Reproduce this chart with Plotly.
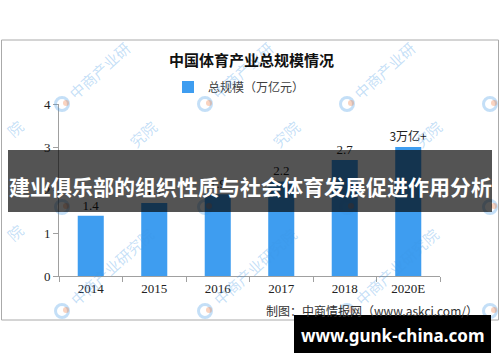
import math
import plotly.graph_objects as go

# ---- data ----
years = ["2014", "2015", "2016", "2017", "2018", "2020E"]
scale = [1.4, 1.7, 1.9, 2.2, 2.7, 3.0]
bar_labels = ["1.4", "1.7", "1.9", "2.2", "2.7", "3万亿+"]
y_ticks = [0, 1, 2, 3, 4]

chart_title = "中国体育产业总规模情况"
series_name = "总规模（万亿元）"
source_text = "制图：中商情报网（www.askci.com/）"
banner_text = "建业俱乐部的组织性质与社会体育发展促进作用分析"
site_text = "www.gunk-china.com"
watermark = "中商产业研究院"

W, H = 500, 362
L, R, T, B = 59, 440, 104, 276  # plot area in pixels


def px(x):
    return (x - L) / (R - L)


def py(y):
    return (B - y) / (B - T)


CJK = "Noto Sans CJK SC"
SERIF = "Liberation Serif"
BLUE = "#3E9DF0"

fig = go.Figure()
fig.add_trace(go.Bar(
    x=years, y=scale, name=series_name,
    marker=dict(color=BLUE, line=dict(width=0)),
    width=0.41,
    text=bar_labels, textposition="outside", cliponaxis=False,
    constraintext="none",
    textfont=dict(size=[13, 13, 13, 13, 13, 12],
                  family=[SERIF, SERIF, SERIF, SERIF, SERIF, CJK],
                  color="#222222"),
))

shapes = []
annotations = []

# chart frame
shapes.append(dict(type="rect", xref="paper", yref="paper",
                   x0=px(1.5), x1=px(498.5), y0=py(320), y1=py(40),
                   line=dict(color="#AAAAAA", width=1), layer="below"))

# watermarks
wm_col = "rgba(60,150,230,0.30)"
ang = math.radians(42)
pitch = 17.0
d0 = 16.0


def add_wm(lx, ly, first, last, logo=True):
    if logo:
        r = 6.5
        shapes.append(dict(type="circle", xref="paper", yref="paper",
                           x0=px(lx - r), x1=px(lx + r), y0=py(ly + r), y1=py(ly - r),
                           line=dict(color=wm_col, width=3), layer="above"))
        shapes.append(dict(type="circle", xref="paper", yref="paper",
                           x0=px(lx + 1), x1=px(lx + 7), y0=py(ly + 2), y1=py(ly - 4),
                           fillcolor="rgba(240,120,60,0.33)", line=dict(width=0),
                           layer="above"))
    if last < first:
        return
    txt = watermark[first:last + 1]
    mid = (first + last) / 2.0
    dist = d0 + mid * pitch
    cx = lx + dist * math.cos(ang)
    cy = ly - dist * math.sin(ang)
    annotations.append(dict(xref="paper", yref="paper", x=px(cx), y=py(cy),
                            text=txt, showarrow=False, textangle=-42,
                            font=dict(family=CJK, size=15, color=wm_col),
                            xanchor="center", yanchor="middle"))


for lx in [62, 205, 347]:
    add_wm(lx, 104, 0, 4)
    add_wm(lx, 207, 5, 6)
    add_wm(lx, 311, 0, 6)
add_wm(490, 104, 0, -1)
add_wm(490, 207, 0, -1)
add_wm(490, 311, 0, -1)
add_wm(-73, 207, 6, 6, logo=False)
add_wm(-73, 311, 6, 6, logo=False)

# title and source
annotations.append(dict(xref="paper", yref="paper", x=px(251), y=py(59),
                        text="<b>" + chart_title + "</b>", showarrow=False,
                        font=dict(family=CJK, size=15, color="#111111"),
                        xanchor="center", yanchor="middle"))
annotations.append(dict(xref="paper", yref="paper", x=px(480), y=py(310),
                        text=source_text, showarrow=False,
                        font=dict(family=CJK, size=12, color="#333333"),
                        xanchor="right", yanchor="middle"))

# overlay banners
shapes.append(dict(type="rect", xref="paper", yref="paper",
                   x0=px(8), x1=px(492), y0=py(212), y1=py(150),
                   fillcolor="rgba(0,0,0,0.67)", line=dict(width=0), layer="above"))
shapes.append(dict(type="rect", xref="paper", yref="paper",
                   x0=px(294), x1=px(491), y0=py(353), y1=py(315),
                   fillcolor="#000000", line=dict(width=0), layer="above"))
annotations.append(dict(xref="paper", yref="paper", x=px(250), y=py(186),
                        text="<b>" + banner_text + "</b>", showarrow=False,
                        font=dict(family=CJK, size=21, color="white"),
                        xanchor="center", yanchor="middle"))
annotations.append(dict(xref="paper", yref="paper", x=px(392), y=py(335),
                        text="<b>" + site_text + "</b>", showarrow=False,
                        font=dict(family="Noto Sans", size=17, color="white"),
                        xanchor="center", yanchor="middle"))

fig.update_layout(
    width=W, height=H,
    margin=dict(l=L, r=W - R, t=T, b=H - B, pad=0),
    paper_bgcolor="white", plot_bgcolor="white",
    showlegend=True,
    legend=dict(orientation="h", x=px(168), xanchor="left", y=py(87), yanchor="middle",
                font=dict(family=CJK, size=12, color="#404040"),
                bgcolor="rgba(0,0,0,0)", itemwidth=30),
    xaxis=dict(type="category", showline=True, linecolor="#A0A0A0", linewidth=1,
               ticks="outside", tickson="boundaries", ticklen=5, tickcolor="#A0A0A0",
               showgrid=False, tickfont=dict(family=SERIF, size=13, color="#222222"),
               fixedrange=True),
    yaxis=dict(range=[0, 4], tickvals=y_ticks, showline=True, linecolor="#A0A0A0",
               linewidth=1, ticks="outside", ticklen=5, tickcolor="#A0A0A0",
               showgrid=False, zeroline=False,
               tickfont=dict(family=SERIF, size=13, color="#222222"), fixedrange=True),
    shapes=shapes, annotations=annotations,
    bargap=0.59,
)

fig.write_html("out.html", config={"displayModeBar": False})
